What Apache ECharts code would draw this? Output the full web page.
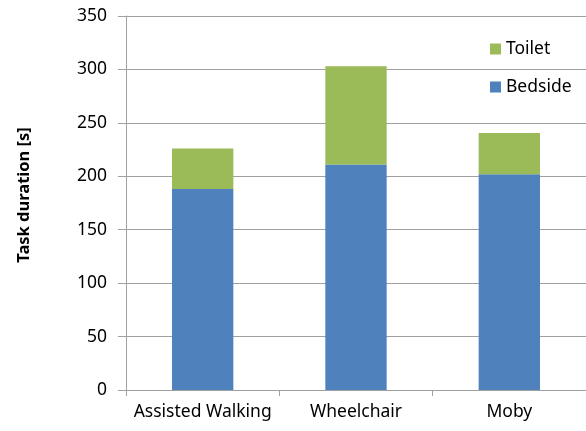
<!DOCTYPE html>
<html lang="en">
<head>
    <meta charset="UTF-8">
    <title>Task duration</title>
    <script src="https://cdn.jsdelivr.net/npm/echarts@6/dist/echarts.min.js"></script>
    <style>
        html, body { margin: 0; padding: 0; background: #fff; }
        #main { width: 586px; height: 431px; }
    </style>
</head>
<body>
<div id="main"></div>
<script>
    // data
    var categories = ['Assisted Walking', 'Wheelchair', 'Moby'];
    var bedside = [188, 211, 202];
    var toilet = [38, 92, 38.5];
    var yTicks = [0, 50, 100, 150, 200, 250, 300, 350];

    var font = 'Noto Sans';
    var chart = echarts.init(document.getElementById('main'));

    var option = {
        animation: false,
        textStyle: { fontFamily: font },
        grid: { left: 126, right: 0, top: 16, bottom: 41 },
        legend: {
            orient: 'vertical',
            left: 485,
            top: 35,
            icon: 'rect',
            itemWidth: 11,
            itemHeight: 11,
            itemGap: 20,
            data: ['Toilet', 'Bedside'],
            textStyle: { fontFamily: font, fontSize: 17.5, color: '#000' }
        },
        xAxis: {
            type: 'category',
            data: categories,
            axisLine: { lineStyle: { color: '#A0A0A0', width: 1 } },
            axisTick: { show: true, length: 6, lineStyle: { color: '#A0A0A0' } },
            axisLabel: { interval: 0, fontFamily: font, fontSize: 17.5, color: '#000', margin: 13 }
        },
        yAxis: {
            type: 'value',
            min: yTicks[0],
            max: yTicks[yTicks.length - 1],
            interval: 50,
            name: 'Task duration [s]',
            nameLocation: 'middle',
            nameGap: 93,
            nameTextStyle: { fontFamily: font, fontSize: 16.5, fontWeight: 'bold', color: '#000', padding: [0, 0, 0, 16] },
            axisLine: { show: true, lineStyle: { color: '#A0A0A0', width: 1 } },
            axisTick: { show: true, inside: false, length: 8, lineStyle: { color: '#A0A0A0' } },
            axisLabel: { fontFamily: font, fontSize: 17.5, color: '#000', margin: 19 },
            splitLine: { lineStyle: { color: '#A0A0A0', width: 1 } }
        },
        series: [
            {
                name: 'Bedside',
                type: 'bar',
                stack: 'total',
                barWidth: '40%',
                data: bedside,
                itemStyle: { color: '#4F81BD' }
            },
            {
                name: 'Toilet',
                type: 'bar',
                stack: 'total',
                barWidth: '40%',
                data: toilet,
                itemStyle: { color: '#9BBB59' }
            }
        ]
    };
    chart.setOption(option);
</script>
</body>
</html>
